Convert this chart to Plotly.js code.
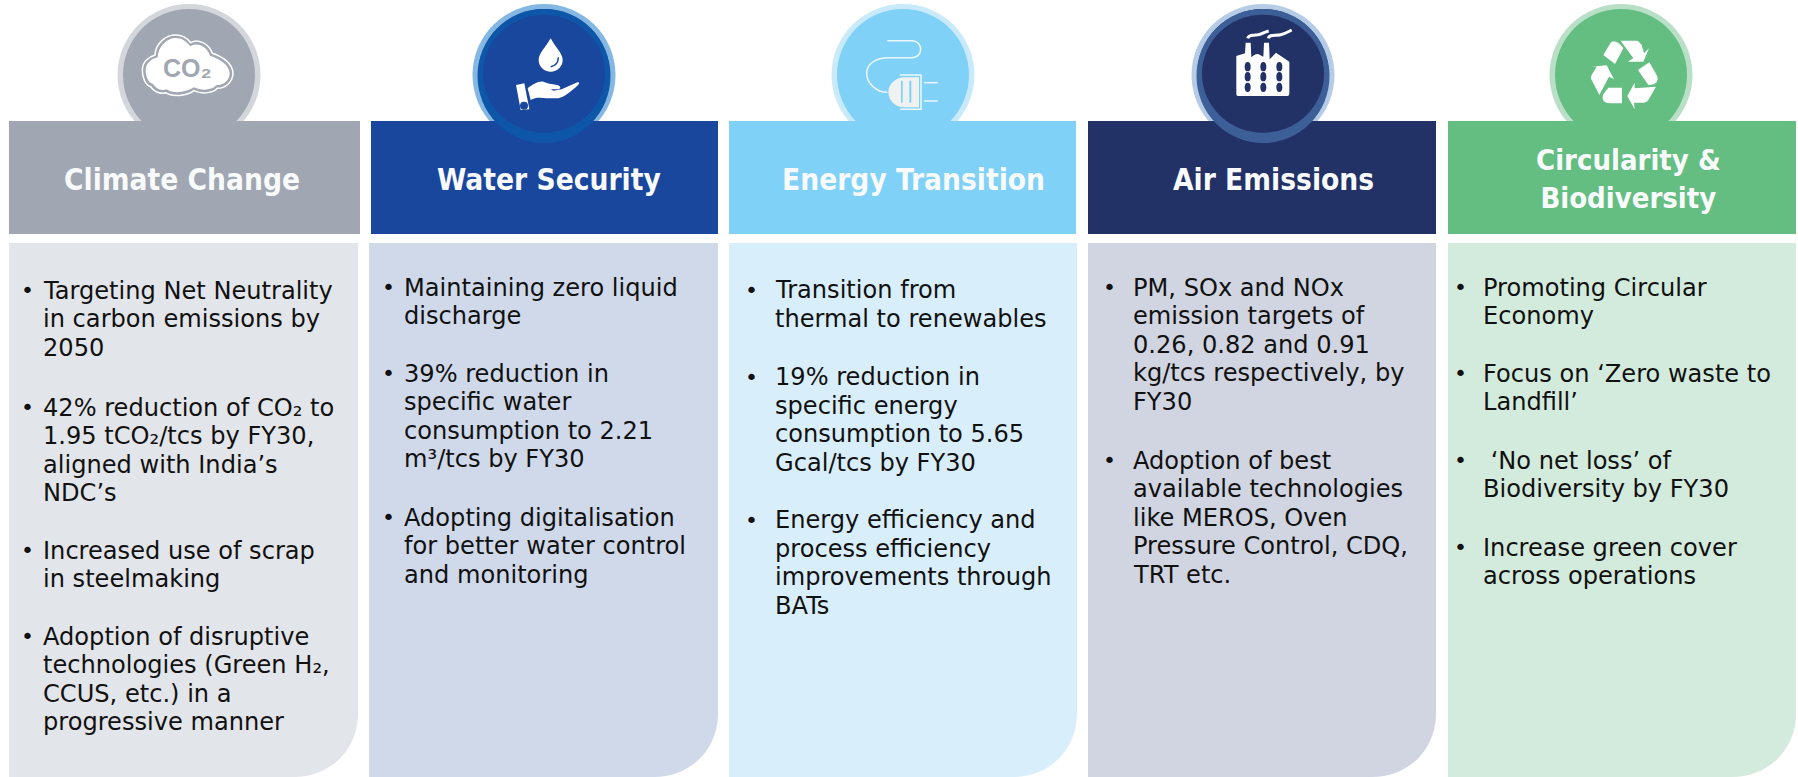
<!DOCTYPE html>
<html><head><meta charset="utf-8">
<script src="https://cdn.plot.ly/plotly-3.0.1.min.js"></script>
<style>html,body{margin:0;padding:0;background:#fff;overflow:hidden}#c{width:1798px;height:777px}</style>
</head><body><div id="c"></div>
<script>
// ---- content ----
const titles = ['Climate Change','Water Security','Energy Transition','Air Emissions','Circularity &<br>Biodiversity'];
const climateBullets = [
  ['Targeting Net Neutrality','in carbon emissions by','2050'],
  ['42% reduction of CO₂ to','1.95 tCO₂/tcs by FY30,','aligned with India’s','NDC’s'],
  ['Increased use of scrap','in steelmaking'],
  ['Adoption of disruptive','technologies (Green H₂,','CCUS, etc.) in a','progressive manner']
];
const waterBullets = [
  ['Maintaining zero liquid','discharge'],
  ['39% reduction in','specific water','consumption to 2.21','m³/tcs by FY30'],
  ['Adopting digitalisation','for better water control','and monitoring']
];
const energyBullets = [
  ['Transition from','thermal to renewables'],
  ['19% reduction in','specific energy','consumption to 5.65','Gcal/tcs by FY30'],
  ['Energy efficiency and','process efficiency','improvements through','BATs']
];
const airBullets = [
  ['PM, SOx and NOx','emission targets of','0.26, 0.82 and 0.91','kg/tcs respectively, by','FY30'],
  ['Adoption of best','available technologies','like MEROS, Oven','Pressure Control, CDQ,','TRT etc.']
];
const circularBullets = [
  ['Promoting Circular','Economy'],
  ['Focus on ‘Zero waste to','Landfill’'],
  ['\u00A0‘No net loss’ of','Biodiversity by FY30'],
  ['Increase green cover','across operations']
];
const allBullets = [climateBullets, waterBullets, energyBullets, airBullets, circularBullets];

// ---- layout and style ----
const headerColors = ['#a0a7b2','#19479d','#7fd1f8','#223166','#64be82'];
const bodyColors   = ['#e2e5e9','#cfd9ea','#d9eefb','#d0d5e1','#d3ebdc'];
const rimColors    = ['#d3d7dc','#84b8e2','#c8eafb','#b5cbe6','#b9e0c7'];
const midColors    = [null,'#0e57a8',null,'#3d5f97',null];
const colX0 = [9,371,729,1088,1448], colX1 = [360,718,1076,1436,1796];
const bodyX0 = [9,369,729,1088,1448], bodyX1 = [358,718,1077,1436,1796];
const circleX = [189,544,903,1263,1621];
const titleX = [182,549,913,1273,1628];
const bulletX = [27,388,751,1109,1460], textX = [40.5,401.5,772.5,1130.5,1480.5];
const firstBaselines = [
  [299,416,559,645],
  [296,382,526],
  [298.5,385.5,528.5],
  [296,469],
  [296,382,469,556]
];
const LINE = 28.6, FS = 24.1, DY = 8.5;

const shapes = [], annotations = [];
const circle = (cx,cy,rx,ry,fill) => ({type:'circle',xref:'x',yref:'y',x0:cx-rx,x1:cx+rx,y0:cy-ry,y1:cy+ry,fillcolor:fill,line:{width:0}});
const rect = (x0,y0,x1,y1,fill) => ({type:'rect',xref:'x',yref:'y',x0,x1,y0,y1,fillcolor:fill,line:{width:0}});
const tf = (s,ox,oy,k=1/3) => s.replace(/(-?[\d.]+),(-?[\d.]+)/g,(m,a,b)=>(ox+a*k).toFixed(2)+','+(oy+b*k).toFixed(2));
const fillPath = (s,ox,oy,fill) => ({type:'path',xref:'x',yref:'y',path:tf(s,ox,oy),fillcolor:fill,line:{width:0}});
const linePath = (s,ox,oy,col,w) => ({type:'path',xref:'x',yref:'y',path:tf(s,ox,oy),fillcolor:'rgba(0,0,0,0)',line:{color:col,width:w}});

titles.forEach((t,i)=>{
  shapes.push(circle(circleX[i],75,71.5,71,rimColors[i]));
  shapes.push(circle(circleX[i],75,66,66,headerColors[i]));
  shapes.push(rect(colX0[i],121,colX1[i],234,headerColors[i]));
  if(midColors[i]){
    shapes.push(circle(circleX[i],76,66.5,67,midColors[i]));
    shapes.push(circle(circleX[i],73.7,61,59,headerColors[i]));
  }
  const x0=bodyX0[i],x1=bodyX1[i];
  shapes.push({type:'path',xref:'x',yref:'y',fillcolor:bodyColors[i],line:{width:0},
    path:`M${x0},243 L${x1},243 L${x1},713 C${x1},750 ${x1-28},777 ${x1-64},777 L${x0},777 Z`});
  annotations.push({xref:'x',yref:'y',x:titleX[i],y:i===4?179:180,xanchor:'center',yanchor:'middle',showarrow:false,align:'center',
    text:t,font:{family:'DejaVu Sans Condensed, DejaVu Sans, sans-serif',size:i===4?29:29.6,weight:700,color:'#f8fafb'}});
  allBullets[i].forEach((b,j)=>{
    annotations.push({xref:'x',yref:'y',x:bulletX[i],y:firstBaselines[i][j]-DY,xanchor:'center',yanchor:'middle',showarrow:false,
      text:'•',font:{family:'DejaVu Sans, sans-serif',size:22,color:'#111'}});
    b.forEach((ln,k)=>{
      annotations.push({xref:'x',yref:'y',x:textX[i],y:firstBaselines[i][j]+k*LINE-DY,xanchor:'left',yanchor:'middle',showarrow:false,
        text:ln,font:{family:'DejaVu Sans, Verdana, sans-serif',size:FS,color:'#111'}});
    });
  });
});

// ---- icons (outlines in local crop units, one unit = 1/3 px) ----
const cloud='M40,150 C40,125 60,110 78,105 C80,70 110,45 140,45 C160,45 175,55 185,68 C205,55 240,70 250,100 C280,110 312,130 312,160 C312,185 290,205 265,205 C250,222 215,222 195,212 C175,228 130,232 110,218 C90,225 70,210 65,200 C50,195 40,175 40,150 Z';
const cloudIn='M50,150 C50,130 68,116 86,112 C88,78 114,54 140,54 C158,54 172,64 184,79 C204,66 234,78 243,107 C272,116 302,136 302,160 C302,180 285,196 262,196 C248,212 216,212 195,202 C172,218 132,222 112,208 C94,215 78,202 72,192 C58,188 50,170 50,150 Z';
shapes.push(linePath(cloud,129,20,'#ffffff',1.5));
shapes.push(fillPath(cloudIn,129,20,'#ffffff'));
annotations.push({xref:'x',yref:'y',x:187.5,y:68,xanchor:'center',yanchor:'middle',showarrow:false,
  text:'CO₂',font:{family:'Liberation Sans Narrow, Liberation Sans, sans-serif',size:25,weight:700,color:'#a0a7b2'}});
shapes.push(fillPath('M182,55 C165,85 146,100 146,120 C146,140 162,155 182,155 C202,155 218,140 218,120 C218,100 198,85 182,55 Z',490,20,'#ffffff'));
shapes.push(linePath('M205,112 C205,130 195,138 182,140',490,20,'#19479d',1.5));
shapes.push(fillPath('M78,195 L103,190 L118,268 L92,270 Z',490,20,'#ffffff'));
shapes.push(circle(490+102/3,20+257/3,4,4,'#19479d'));
shapes.push(fillPath('M113,205 C125,195 145,183 160,185 C170,190 185,192 200,195 C212,197 215,205 205,208 L182,208 L190,212 L215,208 L262,187 C270,187 268,193 262,197 C245,212 225,230 205,235 L170,235 C150,232 135,232 122,240 Z',490,20,'#ffffff'));
shapes.push(linePath('M112,62 L185,62 C220,62 222,113 185,113 L115,113 C80,113 50,130 50,160 C50,190 80,217 112,217',850,20,'#eef7fc',1.5));
shapes.push(fillPath('M165,172 C135,172 115,195 115,215 C115,240 135,262 165,262 L207,262 L207,172 Z',850,20,'#f0f2f2'));
shapes.push(linePath('M150,165 L213,165 L213,268 L150,268',850,20,'#eef7fc',1.5));
shapes.push(linePath('M222,188 L263,188',850,20,'#eef7fc',1.5));
shapes.push(linePath('M222,243 L263,243',850,20,'#eef7fc',1.5));
shapes.push(fillPath('M153,182 L158,182 L158,248 L153,248 Z',850,20,'#7fd1f8'));
shapes.push(fillPath('M178,182 L184,182 L184,248 L178,248 Z',850,20,'#7fd1f8'));
shapes.push(fillPath('M84,228 C80,228 79,225 79,220 L79,108 L105,100 L107,68 L122,68 L124,112 C132,105 142,98 150,105 L160,110 L162,68 L177,68 L179,118 L198,98 L238,125 L238,220 C238,225 236,228 232,228 Z',1210,20,'#ffffff'));
[113,160,208].forEach(wx=>[140,170,202].forEach(wy=>{
  shapes.push(circle(1210+wx/3,20+wy/3,3,4.7,'#223166'));
}));
shapes.push(linePath('M113,55 C116,42 130,48 145,44 C158,42 165,35 176,33',1210,20,'#ffffff',3));
shapes.push(linePath('M175,55 C178,42 195,48 212,44 C225,42 235,35 245,30',1210,20,'#ffffff',3));
[
 'M130,105 L152,68 C158,62 175,62 190,85 L165,132 Z',
 'M182,62 L228,62 C235,62 240,68 245,75 L252,100 L267,85 L250,125 L203,125 L220,115 Z',
 'M268,127 L290,165 C298,180 290,195 265,195 L234,150 Z',
 'M288,200 L265,240 C262,245 255,248 250,248 L222,248 L224,268 L202,228 L224,188 L224,205 Z',
 'M186,203 L186,250 L150,250 C130,250 122,235 132,220 L145,203 Z',
 'M118,225 L95,180 C90,172 95,165 98,160 L110,140 L94,140 L140,136 L162,178 L147,170 Z'
].forEach(p=>shapes.push(fillPath(p,1560,20,'#ffffff')));

Plotly.newPlot('c',[],{
  width:1798,height:777,margin:{l:0,r:0,t:0,b:0},paper_bgcolor:'#fff',plot_bgcolor:'#fff',showlegend:false,
  xaxis:{range:[0,1798],visible:false,fixedrange:true,type:'linear'},
  yaxis:{range:[777,0],visible:false,fixedrange:true,type:'linear'},
  shapes,annotations
},{displayModeBar:false,staticPlot:true});
</script></body></html>
